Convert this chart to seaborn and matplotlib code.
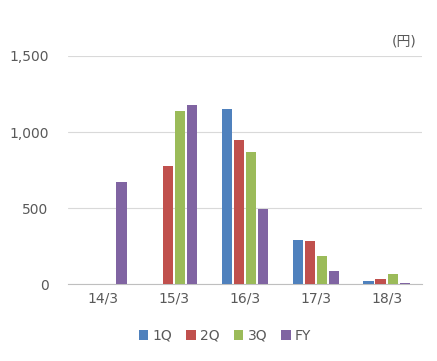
import matplotlib
matplotlib.use("Agg")
import matplotlib.pyplot as plt
import seaborn as sns
import pandas as pd
from matplotlib.patches import Patch

categories = ["14/3", "15/3", "16/3", "17/3", "18/3"]
series = ["1Q", "2Q", "3Q", "FY"]
q1 = [0, 0, 1153, 291, 24]
q2 = [0, 774, 951, 285, 37]
q3 = [0, 1136, 872, 186, 70]
fy = [673, 1180, 495, 90, 8]
colors = ["#4F81BD", "#C0504D", "#9BBB59", "#8064A2"]

rows = []
for s, vals in zip(series, [q1, q2, q3, fy]):
    for c, v in zip(categories, vals):
        rows.append({"period": c, "series": s, "value": v})
df = pd.DataFrame(rows)

sns.set_theme(style="white")
plt.rcParams['font.family'] = ['DejaVu Sans', 'Noto Sans CJK JP']

fig = plt.figure(figsize=(4.37, 3.61), dpi=100)
ax = fig.add_axes([0.1556, 0.2125, 0.81, 0.6325])
sns.barplot(data=df, x="period", y="value", hue="series", order=categories,
            hue_order=series, palette=colors, width=0.68, gap=0.16,
            saturation=1, ax=ax, legend=False, errorbar=None, linewidth=0)

ax.set_xlim(-0.5, 4.5)
ax.set_ylim(0, 1500)
ax.set_yticks([0, 500, 1000, 1500])
ax.set_yticklabels(["0", "500", "1,000", "1,500"])
ax.set_xlabel("")
ax.set_ylabel("")
ax.grid(axis="y", color="#D9D9D9", linewidth=0.8)
ax.set_axisbelow(True)
for sp in ["top", "right", "left"]:
    ax.spines[sp].set_visible(False)
ax.spines["bottom"].set_color("#BFBFBF")
ax.spines["bottom"].set_linewidth(0.8)
ax.spines["bottom"].set_zorder(0.5)
ax.tick_params(axis="y", length=0, pad=14, labelsize=10, labelcolor="#595959")
ax.tick_params(axis="x", length=0, pad=5, labelsize=10, labelcolor="#595959")

fig.text(0.952, 0.885, "(円)", ha="right", va="center", fontsize=10,
         color="#595959", family=['DejaVu Sans', 'Noto Sans CJK JP'])

handles = [Patch(facecolor=c, edgecolor="none") for c in colors]
fig.legend(handles, series, loc="center", bbox_to_anchor=(0.515, 0.07),
           ncol=4, frameon=False, handlelength=0.7, handleheight=0.7,
           handletextpad=0.3, columnspacing=1.0, fontsize=10,
           labelcolor="#595959")

fig.savefig("out.png", dpi=100)
